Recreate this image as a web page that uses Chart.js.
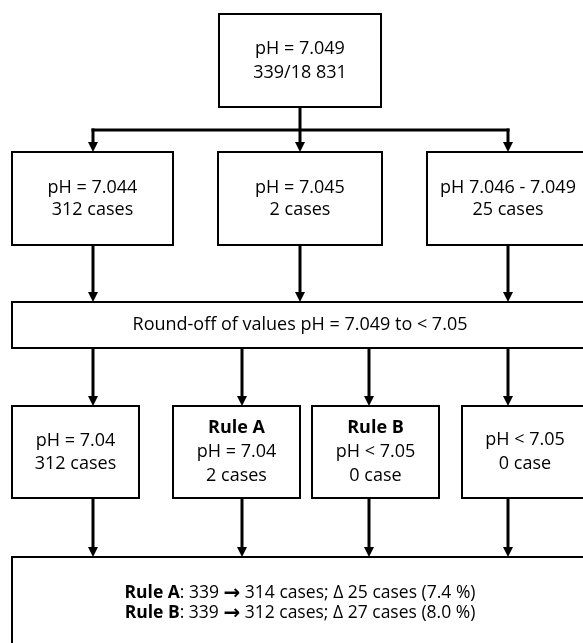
<!DOCTYPE html>
<html><head><meta charset="utf-8">
<script src="https://cdn.jsdelivr.net/npm/chart.js@4.4.0/dist/chart.umd.min.js"></script>
<style>html,body{margin:0;padding:0;background:#fff;}#wrap{width:583px;height:643px;position:relative;}</style>
</head><body><div id="wrap"><canvas id="c"></canvas></div>
<script>
// ---- Flowchart content (text of each box; **...** = bold, ^^...^^ = symbol glyph) ----
const boxText = [
  ['pH = 7.049', '339/18 831'],
  ['pH = 7.044', '312 cases'],
  ['pH = 7.045', '2 cases'],
  ['pH 7.046 - 7.049', '25 cases'],
  ['Round-off of values pH = 7.049 to < 7.05'],
  ['pH = 7.04', '312 cases'],
  ['**Rule A**', 'pH = 7.04', '2 cases'],
  ['**Rule B**', 'pH < 7.05', '0 case'],
  ['pH < 7.05', '0 case'],
  ['**Rule A**: 339 ^^\u2192^^ 314 cases; \u0394 25 cases (7.4 %)', '**Rule B**: 339 ^^\u2192^^ 312 cases; \u0394 27 cases (8.0 %)']
];

// ---- Layout in axis units (x: 0..583, y: 0..643 downward) ----
const boxLeft   = [219,  12, 218, 427,  12,  12, 173, 312, 462,  12];
const boxRight  = [381, 173, 382, 589, 588, 139, 300, 439, 588, 588];
const boxTop    = [ 14, 152, 152, 152, 302, 406, 406, 406, 406, 557];
const boxBottom = [107, 245, 245, 245, 348, 498, 498, 498, 498, 649];
const boxFontPx = [ 18,  18,  18,  18,  18,  18,  18,  18,  18, 17.5];
const boxLineGap= [ 24,  22,  22,  22,   0,  23,  24,  24,  24,  20];

// arrows (vertical): x, start y, tip y
const arrowX    = [ 93, 300, 508,  93, 300, 508,  93, 242, 369, 508,  93, 242, 369, 508];
const arrowFrom = [130, 107, 130, 245, 245, 245, 348, 348, 348, 348, 498, 498, 498, 498];
const arrowTo   = [152, 152, 152, 302, 302, 302, 406, 406, 406, 406, 557, 557, 557, 557];
// horizontal distribution bus
const busX = [93, 508];
const busY = 130;

const FONT = '"Open Sans", "Noto Sans", sans-serif';
const SYM_FONT = '"DejaVu Sans", sans-serif';
const HEAD_LEN = 10, HEAD_HALF = 5;

const datasets = [];
for (let i = 0; i < arrowX.length; i++) {
  datasets.push({
    data: [{x: arrowX[i], y: arrowFrom[i]}, {x: arrowX[i], y: arrowTo[i] - HEAD_LEN + 2}],
    borderColor: '#000', borderWidth: 3, pointRadius: 0, showLine: true,
    borderCapStyle: 'square', borderJoinStyle: 'miter', tension: 0
  });
}
datasets.push({
  data: [{x: busX[0], y: busY}, {x: busX[1], y: busY}],
  borderColor: '#000', borderWidth: 3, pointRadius: 0, showLine: true,
  borderCapStyle: 'square', tension: 0
});

function parseSegs(line) {
  const out = [];
  line.split('**').forEach((t, k) => {
    t.split('^^').forEach((u, m) => {
      if (u.length) out.push({text: u, bold: k % 2 === 1, sym: m % 2 === 1});
    });
  });
  return out;
}
function segFont(s, fs) {
  if (s.sym) return 'bold ' + Math.round(fs * 1.15) + 'px ' + SYM_FONT;
  return (s.bold ? 'bold ' : '') + fs + 'px ' + FONT;
}

const flowPlugin = {
  id: 'flow',
  afterDatasetsDraw(chart) {
    const ctx = chart.ctx, xs = chart.scales.x, ys = chart.scales.y;
    ctx.save();
    // arrowheads
    ctx.fillStyle = '#000';
    for (let i = 0; i < arrowX.length; i++) {
      const px = xs.getPixelForValue(arrowX[i]);
      const py = ys.getPixelForValue(arrowTo[i]);
      ctx.beginPath();
      ctx.moveTo(px, py);
      ctx.lineTo(px - HEAD_HALF, py - HEAD_LEN);
      ctx.lineTo(px + HEAD_HALF, py - HEAD_LEN);
      ctx.closePath();
      ctx.fill();
    }
    // boxes
    for (let i = 0; i < boxText.length; i++) {
      const x1 = xs.getPixelForValue(boxLeft[i]), x2 = xs.getPixelForValue(boxRight[i]);
      const y1 = ys.getPixelForValue(boxTop[i]), y2 = ys.getPixelForValue(boxBottom[i]);
      ctx.fillStyle = '#fff';
      ctx.fillRect(x1, y1, x2 - x1, y2 - y1);
      ctx.strokeStyle = '#000';
      ctx.lineWidth = 2;
      ctx.strokeRect(x1, y1, x2 - x1, y2 - y1);
      const cx = (x1 + x2) / 2, cy = (y1 + y2) / 2;
      const lines = boxText[i];
      const gap = boxLineGap[i];
      const fs = boxFontPx[i];
      ctx.textBaseline = 'middle';
      ctx.fillStyle = '#000';
      lines.forEach((ln, j) => {
        const ly = cy + (j - (lines.length - 1) / 2) * gap;
        const segs = parseSegs(ln);
        let total = 0;
        segs.forEach(s => {
          ctx.font = segFont(s, fs);
          s.w = ctx.measureText(s.text).width;
          total += s.w;
        });
        let x = cx - total / 2;
        ctx.textAlign = 'left';
        segs.forEach(s => {
          ctx.font = segFont(s, fs);
          ctx.fillText(s.text, x, ly + (s.sym ? 1 : 0));
          x += s.w;
        });
      });
    }
    ctx.restore();
  }
};

new Chart(document.getElementById('c'), {
  type: 'scatter',
  data: {datasets},
  options: {
    responsive: true, maintainAspectRatio: false, animation: false,
    layout: {padding: 0},
    plugins: {legend: {display: false}, tooltip: {enabled: false}},
    scales: {
      x: {type: 'linear', min: 0, max: 583, display: false},
      y: {type: 'linear', min: 0, max: 643, reverse: true, display: false}
    }
  },
  plugins: [flowPlugin]
});
</script>
</body></html>
